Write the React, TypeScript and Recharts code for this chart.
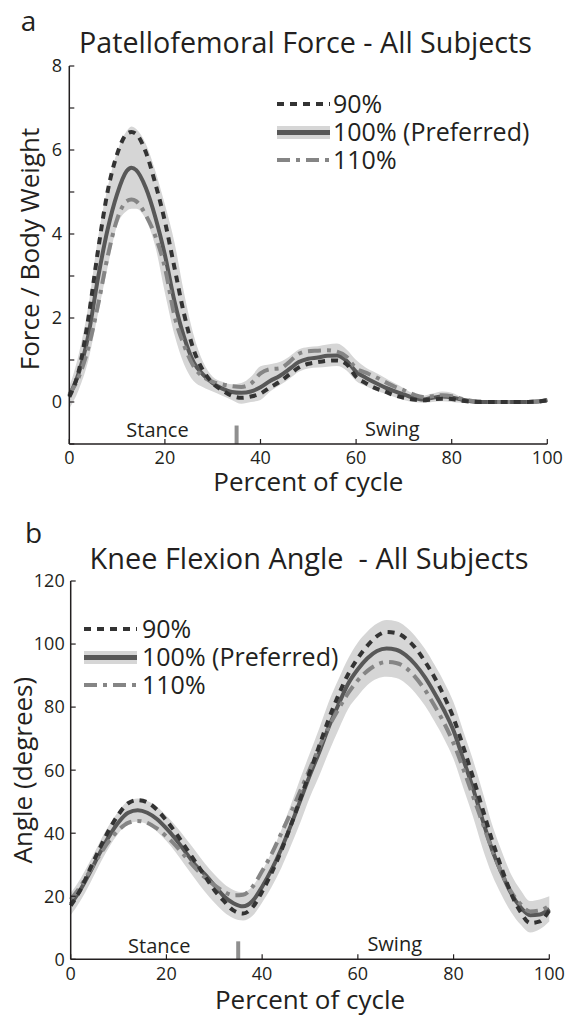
import React from 'react';
import {
  ComposedChart,
  Line,
  Area,
  XAxis,
  YAxis,
  ReferenceLine,
  ReferenceDot,
  Legend,
} from 'recharts';

// ---------------- DATA ----------------
// Panel a: Patellofemoral force (body weights) vs percent of gait cycle
const cycleA = [0, 2, 4, 6, 8, 10, 12, 13, 14, 16, 18, 20, 22, 24, 26, 28, 30, 32, 34, 36, 38, 40, 42, 44, 46, 48, 50, 52, 54, 56, 58, 60, 62, 64, 66, 68, 70, 72, 74, 76, 78, 80, 82, 84, 86, 88, 90, 92, 94, 96, 98, 100];
const force90 = [0.12, 0.75, 2.0, 3.6, 5.0, 5.9, 6.38, 6.43, 6.38, 5.95, 5.2, 4.3, 3.2, 2.1, 1.25, 0.75, 0.45, 0.28, 0.15, 0.1, 0.13, 0.2, 0.35, 0.48, 0.65, 0.82, 0.91, 0.95, 0.98, 0.99, 0.9, 0.6, 0.45, 0.33, 0.25, 0.16, 0.1, 0.06, 0.04, 0.06, 0.08, 0.07, 0.03, 0.01, 0, 0, 0, 0, 0, 0, 0.01, 0.04];
const force100 = [0.15, 0.7, 1.6, 2.95, 4.1, 4.95, 5.5, 5.58, 5.52, 5.1, 4.4, 3.5, 2.4, 1.55, 0.95, 0.65, 0.45, 0.32, 0.24, 0.22, 0.25, 0.35, 0.5, 0.62, 0.78, 0.95, 1.03, 1.06, 1.1, 1.11, 0.98, 0.72, 0.58, 0.46, 0.35, 0.26, 0.18, 0.1, 0.06, 0.1, 0.13, 0.11, 0.06, 0.02, 0, 0, 0, 0, 0, 0, 0.01, 0.05];
const force110 = [0.18, 0.6, 1.3, 2.3, 3.45, 4.35, 4.78, 4.82, 4.78, 4.45, 3.95, 3.2, 2.05, 1.35, 0.85, 0.6, 0.48, 0.42, 0.38, 0.36, 0.44, 0.68, 0.78, 0.8, 0.95, 1.15, 1.21, 1.22, 1.23, 1.2, 1.08, 0.8, 0.7, 0.6, 0.48, 0.37, 0.28, 0.18, 0.12, 0.14, 0.16, 0.14, 0.08, 0.03, 0.01, 0, 0, 0, 0, 0, 0.01, 0.05];
const forceBandLow = [-0.16, 0.3, 1.0, 2.1, 3.2, 4.2, 4.55, 4.6, 4.6, 4.35, 3.7, 2.6, 1.6, 0.9, 0.5, 0.35, 0.25, 0.15, 0.05, -0.04, 0.0, 0.05, 0.25, 0.4, 0.55, 0.72, 0.8, 0.82, 0.84, 0.86, 0.75, 0.5, 0.38, 0.28, 0.2, 0.12, 0.05, 0.0, -0.02, 0.0, 0.02, 0.0, -0.02, -0.03, -0.03, -0.03, -0.03, -0.03, -0.03, -0.03, -0.03, -0.02];
const forceBandHigh = [0.35, 1.15, 2.3, 3.9, 5.1, 5.95, 6.45, 6.56, 6.5, 6.15, 5.5, 4.7, 3.8, 2.6, 1.6, 0.95, 0.6, 0.48, 0.42, 0.45, 0.6, 0.85, 0.9, 0.95, 1.08, 1.25, 1.31, 1.33, 1.37, 1.39, 1.25, 1.0, 0.82, 0.7, 0.58, 0.45, 0.33, 0.2, 0.15, 0.2, 0.25, 0.22, 0.12, 0.06, 0.04, 0.03, 0.03, 0.03, 0.03, 0.03, 0.04, 0.1];
const forceTicks = [-1, 0, 1, 2, 3, 4, 5, 6, 7, 8];

// Panel b: Knee flexion angle (degrees) vs percent of gait cycle
const cycleB = [0, 2, 4, 6, 8, 10, 12, 14, 16, 18, 20, 22, 24, 26, 28, 30, 32, 34, 36, 38, 40, 42, 44, 46, 48, 50, 52, 54, 56, 58, 60, 62, 64, 66, 68, 70, 72, 74, 76, 78, 80, 82, 84, 86, 88, 90, 92, 94, 96, 98, 100];
const knee90 = [17, 22, 28.5, 35, 41, 46, 49.5, 50.5, 49.8, 47.5, 44, 40, 35.5, 31, 26.5, 22, 18.5, 15.5, 14.5, 16.5, 21.5, 27.5, 34.5, 42.5, 51, 59.5, 68, 76.5, 84, 90.5, 95.5, 99.5, 102.5, 103.8, 103.5, 101.8, 98.8, 94.5, 89.5, 83.5, 76.5, 67.5, 58, 48, 38, 29, 21, 15, 11.5, 12, 15.5];
const knee100 = [17.5, 22, 27.5, 33.5, 39, 43.5, 46.5, 47.3, 46.5, 44.5, 41.5, 38, 34, 30, 27, 23.5, 20, 17.8, 16.8, 18.5, 23, 28.5, 35, 42.5, 50.5, 58.5, 66, 74, 81, 87.5, 92, 95.5, 97.8, 98.6, 98.2, 96.5, 93.5, 89.5, 84.5, 79, 72.5, 63.5, 54.5, 44.5, 35, 27.5, 21, 16.5, 14, 14.2, 16];
const knee110 = [19, 23, 28, 33, 37.5, 41, 43.3, 43.9, 43.3, 41.5, 39, 36, 32.5, 29, 26, 23.5, 21.5, 20.3, 20.5, 23, 28, 33.5, 40, 46.5, 53.5, 60.5, 67.5, 74, 79.5, 84.5, 88.5, 91.5, 93.5, 94.3, 94, 92.5, 89.5, 85.5, 80.5, 75, 68.5, 60.5, 52, 43.5, 35, 27.5, 21.5, 17.5, 15.2, 15.5, 17];
const kneeBandLow = [14, 18.5, 24, 30, 35.5, 40, 43, 43.6, 42.8, 40.5, 37.5, 33.8, 29.6, 25.5, 21.5, 18, 15, 13, 12.3, 13.8, 18, 23, 29, 36, 43.5, 51.5, 58.5, 66, 73, 79.5, 83.5, 87, 89, 89.6, 89.2, 87.5, 84.5, 80.5, 75.5, 70, 63.5, 54.5, 45.5, 35.5, 27, 20.5, 15, 11, 8.5, 9.5, 12];
const kneeBandHigh = [21, 25.5, 31, 37, 42.5, 47, 50.2, 51, 50.2, 48.5, 45.5, 42.2, 38.4, 34.5, 30.5, 27, 24, 22, 21.3, 23.2, 28, 34, 41, 49, 57.5, 65.5, 73.5, 82, 89, 95.5, 100.5, 104, 106.5, 107.6, 107.2, 105.5, 102.5, 98.5, 93.5, 88, 81.5, 72.5, 63.5, 53.5, 43, 34.5, 27, 22, 18.5, 19, 20];
const kneeTicks = [0, 20, 40, 60, 80, 100, 120];

const cycleTicks = [0, 20, 40, 60, 80, 100];
const seriesNames = ['90%', '100% (Preferred)', '110%'];
const phaseLabels = ['Stance', 'Swing'];

// ---------------- STYLE ----------------
const FONT = '"Open Sans", "Noto Sans", "DejaVu Sans", sans-serif';
const INK = '#231f20';
const C90 = '#333333';
const C100 = '#585858';
const C110 = '#858585';
const BAND = '#d6d6d6';
const BAR = '#8f8f8f';
const DASH90 = '7 6';
const DASH110 = '13 6 4 6';

const rowsA = cycleA.map((x, i) => ({
  x,
  p90: force90[i],
  p100: force100[i],
  p110: force110[i],
  band: [forceBandLow[i], forceBandHigh[i]],
}));

const rowsB = cycleB.map((x, i) => ({
  x,
  p90: knee90[i],
  p100: knee100[i],
  p110: knee110[i],
  band: [kneeBandLow[i], kneeBandHigh[i]],
}));

function LegendBox({ textX }: { textX: number }) {
  const rowY = [14, 42.5, 70];
  const fs = 25;
  return (
    <svg width={290} height={86} style={{ overflow: 'visible', display: 'block' }}>
      {/* 90% */}
      <line x1={0} x2={53} y1={rowY[0]} y2={rowY[0]} stroke={C90} strokeWidth={4} strokeDasharray={DASH90} />
      {/* 100% */}
      <rect x={0} y={rowY[1] - 6.5} width={53} height={13} fill={BAND} />
      <line x1={0} x2={53} y1={rowY[1]} y2={rowY[1]} stroke={C100} strokeWidth={5} />
      {/* 110% */}
      <line x1={0} x2={53} y1={rowY[2]} y2={rowY[2]} stroke={C110} strokeWidth={4} strokeDasharray={DASH110} />
      {seriesNames.map((n, i) => (
        <text key={n} x={textX} y={rowY[i] + 0.357 * fs} fontSize={fs} fontFamily={FONT} fill={INK}>
          {n}
        </text>
      ))}
    </svg>
  );
}

const axisLineStyle = { stroke: INK, strokeWidth: 1.5 };
const tickLineStyle = { stroke: INK, strokeWidth: 1.2 };
const tickText = { fill: INK, fontSize: 18, fontFamily: FONT };
const axisTitle = { fill: INK, fontSize: 26, fontFamily: FONT };
const phaseText = { fill: INK, fontSize: 20, fontFamily: FONT };

export default function App() {
  return (
    <div style={{ position: 'absolute', left: 0, top: 0, width: 581, height: 1025, background: '#ffffff', overflow: 'hidden' }}>
      {/* Panel a */}
      <div style={{ position: 'absolute', left: 0, top: 0 }}>
        <ComposedChart width={581} height={512} data={rowsA} margin={{ top: 66, right: 33.7, bottom: 38, left: 0 }}>
          <XAxis
            dataKey="x"
            type="number"
            domain={[0, 100]}
            ticks={cycleTicks}
            interval={0}
            height={30}
            tickSize={-5}
            tickMargin={12}
            axisLine={axisLineStyle}
            tickLine={tickLineStyle}
            tick={tickText}
            label={{ value: 'Percent of cycle', position: 'bottom', offset: -1.5, style: axisTitle }}
          />
          <YAxis
            type="number"
            domain={[-1, 8]}
            ticks={forceTicks}
            interval={0}
            width={69.3}
            tickSize={-5}
            tickMargin={12.3}
            axisLine={axisLineStyle}
            tickLine={tickLineStyle}
            tick={tickText}
            tickFormatter={(v: number) => (v >= 0 && v % 2 === 0 ? String(v) : '')}
            label={{ value: 'Force / Body Weight', angle: -90, position: 'center', dx: -5, dy: -6, style: axisTitle }}
          />
          <Area dataKey="band" type="monotone" stroke="none" fill={BAND} fillOpacity={1} isAnimationActive={false} dot={false} activeDot={false} />
          <Line dataKey="p100" type="monotone" stroke={C100} strokeWidth={4} dot={false} activeDot={false} isAnimationActive={false} />
          <Line dataKey="p110" type="monotone" stroke={C110} strokeWidth={4} strokeDasharray={DASH110} dot={false} activeDot={false} isAnimationActive={false} />
          <Line dataKey="p90" type="monotone" stroke={C90} strokeWidth={4} strokeDasharray={DASH90} dot={false} activeDot={false} isAnimationActive={false} />
          <ReferenceLine segment={[{ x: 35, y: -1 }, { x: 35, y: -0.56 }]} stroke={BAR} strokeWidth={4} />
          <ReferenceDot x={18.45} y={-0.66} r={0} fill="none" stroke="none" label={{ value: phaseLabels[0], position: 'center', style: phaseText }} />
          <ReferenceDot x={67.6} y={-0.63} r={0} fill="none" stroke="none" label={{ value: phaseLabels[1], position: 'center', style: phaseText }} />
          <Legend
            layout="vertical"
            align="center"
            verticalAlign="middle"
            content={() => <LegendBox textX={56} />}
            wrapperStyle={{ left: 277, top: 90, width: 290, height: 86 }}
          />
        </ComposedChart>
      </div>

      {/* Panel b */}
      <div style={{ position: 'absolute', left: 0, top: 512 }}>
        <ComposedChart width={581} height={513} data={rowsB} margin={{ top: 69, right: 31.7, bottom: 35.7, left: 0 }}>
          <XAxis
            dataKey="x"
            type="number"
            domain={[0, 100]}
            ticks={cycleTicks}
            interval={0}
            height={30}
            tickSize={-5}
            tickMargin={12.5}
            axisLine={axisLineStyle}
            tickLine={tickLineStyle}
            tick={tickText}
            label={{ value: 'Percent of cycle', position: 'bottom', offset: 1.5, style: axisTitle }}
          />
          <YAxis
            type="number"
            domain={[0, 120]}
            ticks={kneeTicks}
            interval={0}
            width={70.7}
            tickSize={-5}
            tickMargin={11}
            axisLine={axisLineStyle}
            tickLine={tickLineStyle}
            tick={tickText}
            label={{ value: 'Angle (degrees)', angle: -90, position: 'center', dx: -12.5, style: axisTitle }}
          />
          <Area dataKey="band" type="monotone" stroke="none" fill={BAND} fillOpacity={1} isAnimationActive={false} dot={false} activeDot={false} />
          <Line dataKey="p100" type="monotone" stroke={C100} strokeWidth={4} dot={false} activeDot={false} isAnimationActive={false} />
          <Line dataKey="p110" type="monotone" stroke={C110} strokeWidth={4} strokeDasharray={DASH110} dot={false} activeDot={false} isAnimationActive={false} />
          <Line dataKey="p90" type="monotone" stroke={C90} strokeWidth={4} strokeDasharray={DASH90} dot={false} activeDot={false} isAnimationActive={false} />
          <ReferenceLine segment={[{ x: 35, y: 0 }, { x: 35, y: 5.7 }]} stroke={BAR} strokeWidth={4} />
          <ReferenceDot x={18.5} y={4.28} r={0} fill="none" stroke="none" label={{ value: phaseLabels[0], position: 'center', style: phaseText }} />
          <ReferenceDot x={67.7} y={4.79} r={0} fill="none" stroke="none" label={{ value: phaseLabels[1], position: 'center', style: phaseText }} />
          <Legend
            layout="vertical"
            align="center"
            verticalAlign="middle"
            content={() => <LegendBox textX={58} />}
            wrapperStyle={{ left: 83.5, top: 103, width: 290, height: 86 }}
          />
        </ComposedChart>
      </div>

      {/* Titles and panel letters */}
      <svg width={581} height={1025} style={{ position: 'absolute', left: 0, top: 0, pointerEvents: 'none' }}>
        <text x={20.7} y={30.5} fontSize={28} fontFamily={FONT} fill={INK}>a</text>
        <text x={305.5} y={53} fontSize={28.7} fontFamily={FONT} fill={INK} textAnchor="middle">
          Patellofemoral Force - All Subjects
        </text>
        <text x={25} y={543.3} fontSize={28} fontFamily={FONT} fill={INK}>b</text>
        <text x={309} y={569} fontSize={28.9} fontFamily={FONT} fill={INK} textAnchor="middle" style={{ whiteSpace: 'pre' }}>
          {'Knee Flexion Angle  - All Subjects'}
        </text>
      </svg>
    </div>
  );
}
